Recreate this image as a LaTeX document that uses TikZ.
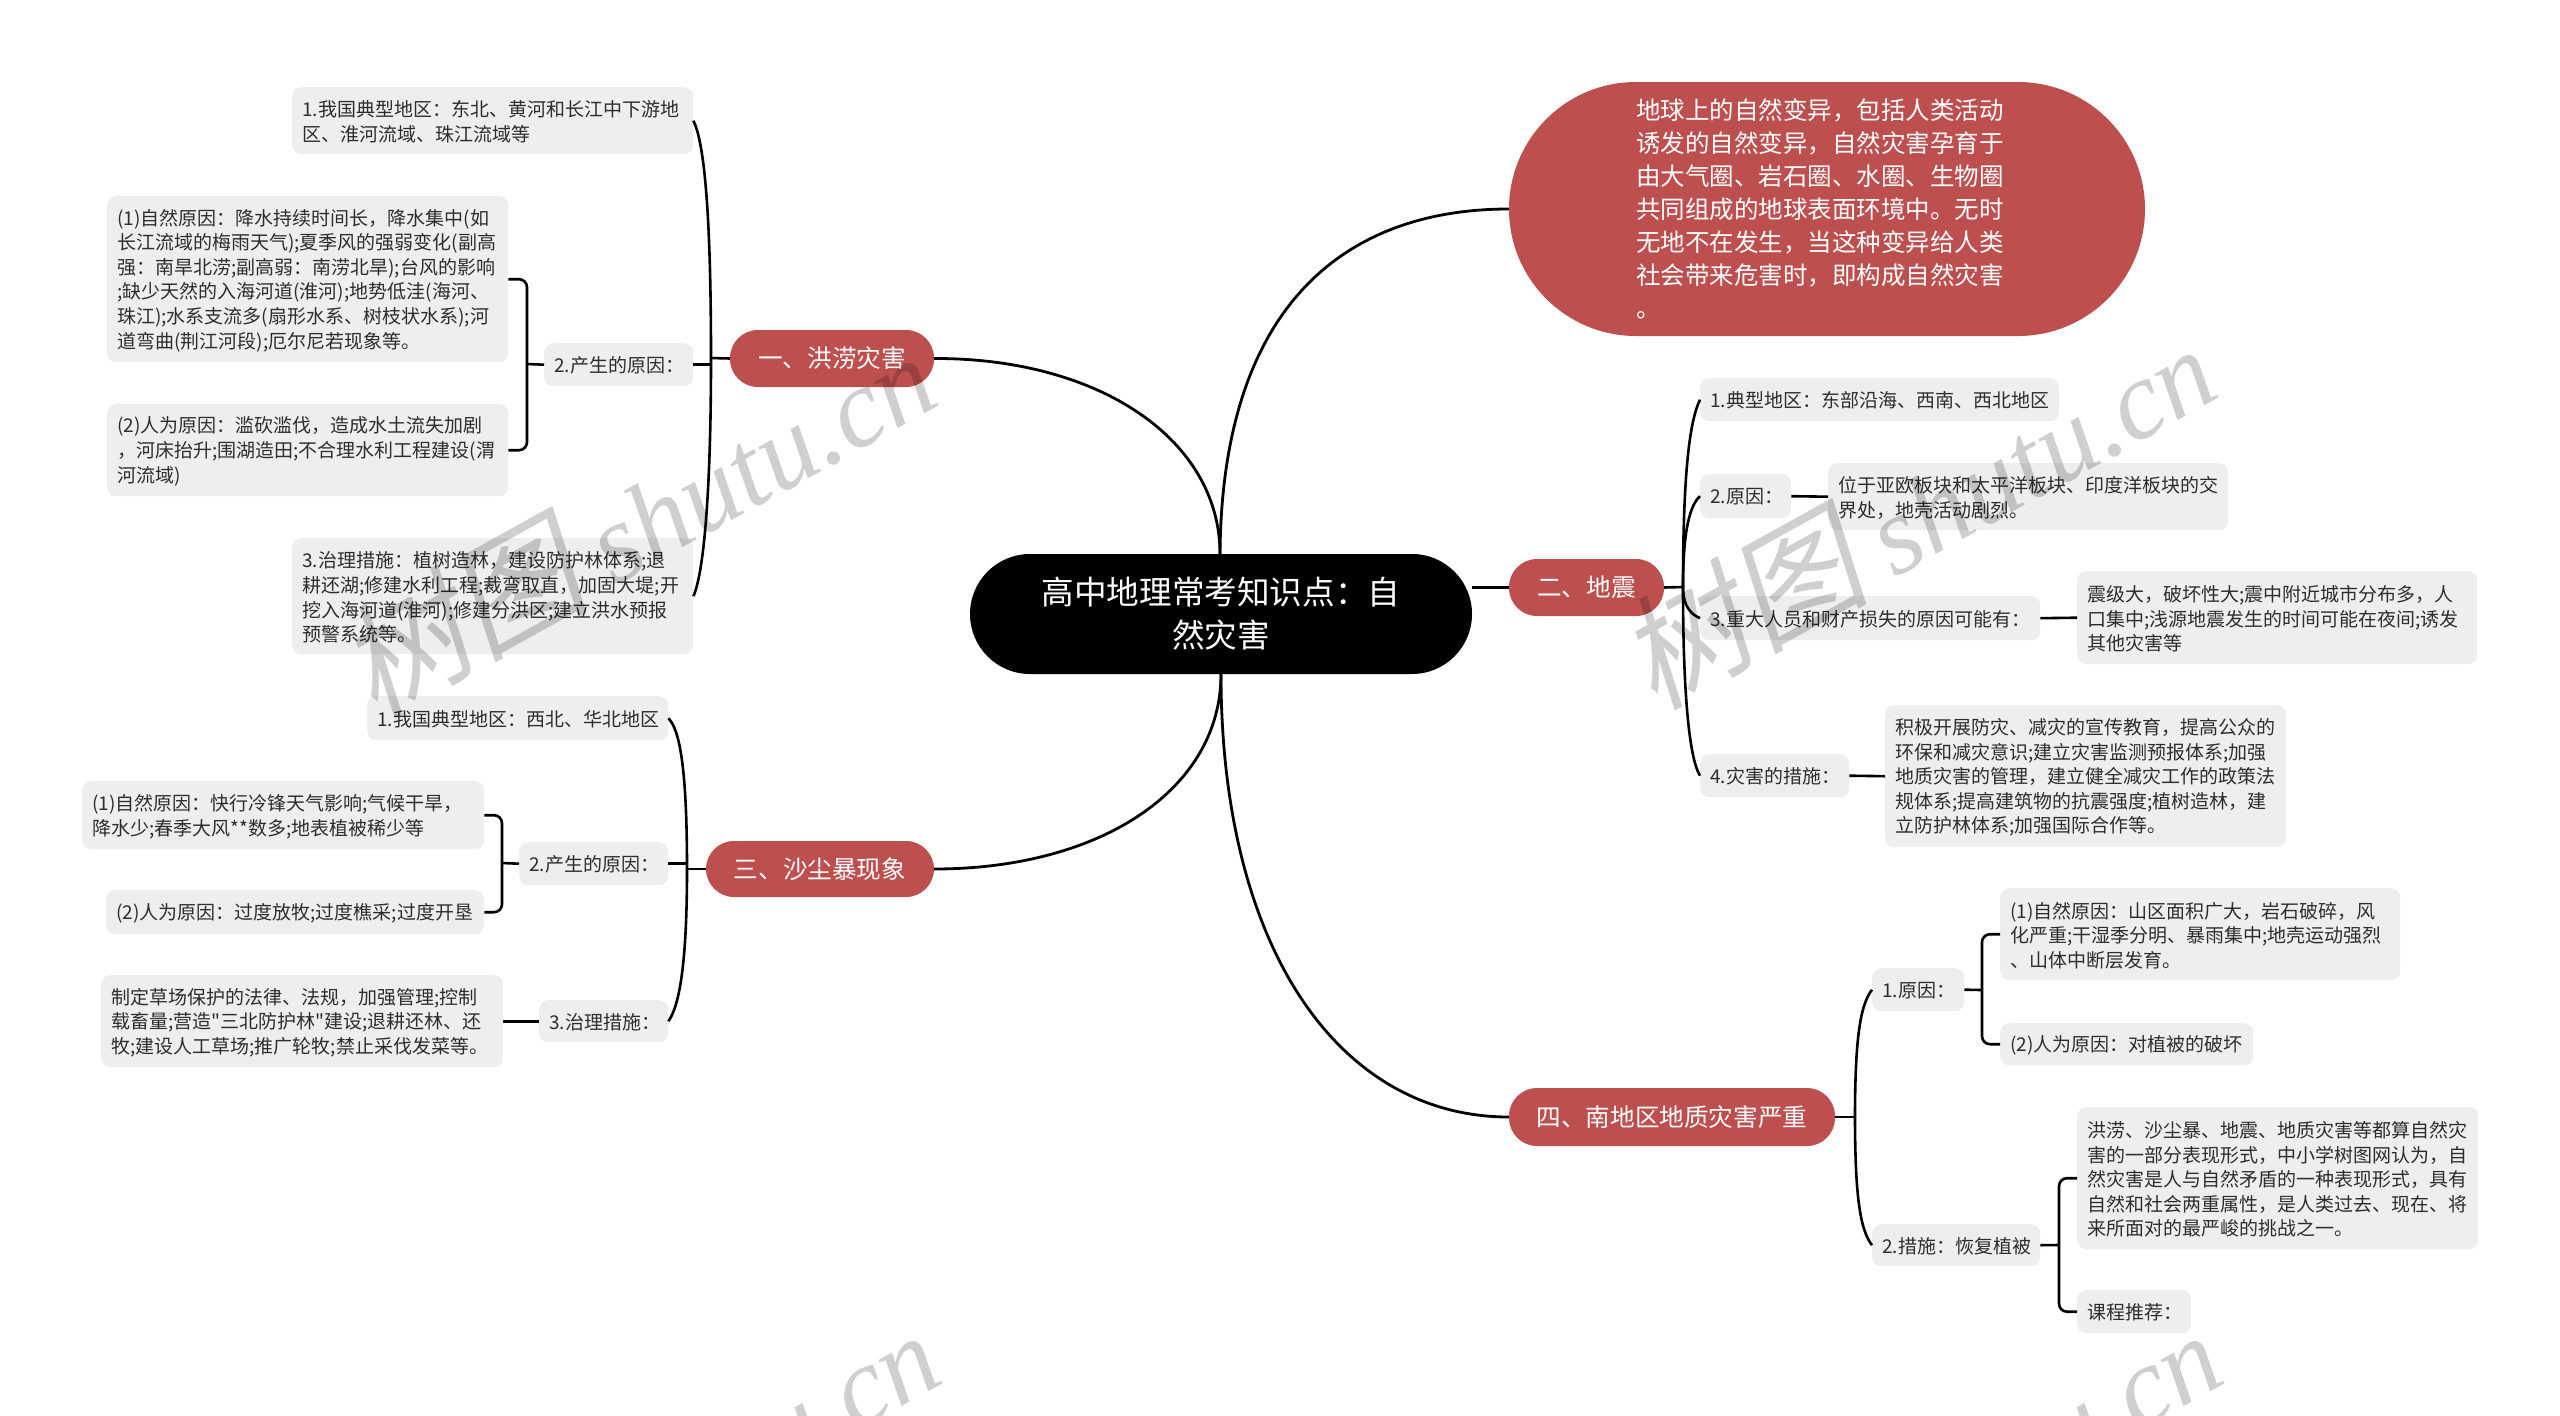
\documentclass[tikz,border=0pt]{standalone}
\usepackage{fontspec}
\setmainfont[Ligatures=TeXOff]{Noto Sans CJK SC}
\newfontfamily\wmcjk[FakeSlant=0.2]{Noto Sans CJK SC}
\newfontfamily\wmlatin{Liberation Serif}
\newcommand{\wmtext}{{\wmcjk\fontsize{125}{125}\selectfont 树图} {\wmlatin\itshape shutu.cn}}
\definecolor{topicred}{RGB}{189, 79, 79}
\definecolor{leafgray}{RGB}{238, 238, 238}
\definecolor{leaftext}{RGB}{45, 45, 45}
\usepackage{tikz}
\usetikzlibrary{positioning, calc}
\tikzset{
  leaf/.style 2 args={anchor=north west, fill=leafgray, rounded corners=9pt, text=leaftext, align=left,
    text width=#1pt, minimum height=#2pt, inner xsep=10pt, inner ysep=0pt, font=\fontsize{19}{24.6}\selectfont,
    execute at end node={\par\vspace*{-2.5pt}}},
  topic/.style={fill=topicred, text=white, rounded corners=28pt, align=center, inner sep=0pt,
    font=\fontsize{24.6}{33}\selectfont},
  link/.style={draw=black, line width=2.6pt},
  branch/.style={draw=black, line width=2.8pt},
  mark wm/.style={rotate=29, text=black, text opacity=0.19, inner sep=0pt, font=\fontsize{112}{112}\selectfont}
}
\begin{document}
\begin{tikzpicture}[x=1pt, y=-1pt]
  \useasboundingbox (0,0) rectangle (2560,1416);
  \clip (0,0) rectangle (2560,1416);

  % Central topic
  \node[fill=black, text=white, rounded corners=60pt, minimum width=502pt, minimum height=120pt, align=center, inner sep=0pt, font=\fontsize{32.6}{43}\selectfont] (root) at (1221,614) {高中地理常考知识点：自\\然灾害};

  % Main topics
  \node[topic, minimum width=204pt, minimum height=57pt] (flood) at (832,358.5) {一、洪涝灾害};
  \node[topic, minimum width=228pt, minimum height=56pt] (sand) at (820,869) {三、沙尘暴现象};
  \node[topic, minimum width=155pt, minimum height=57pt] (quake) at (1586.5,587.5) {二、地震};
  \node[topic, minimum width=326pt, minimum height=58pt] (south) at (1672,1117) {四、南地区地质灾害严重};
  \node[fill=topicred, text=white, rounded corners=127pt, minimum width=636pt, minimum height=254pt, text width=382pt, align=left, inner sep=0pt, font=\fontsize{24.5}{33}\selectfont] (intro) at (1827,209) {地球上的自然变异，包括人类活动\\诱发的自然变异，自然灾害孕育于\\由大气圈、岩石圈、水圈、生物圈\\共同组成的地球表面环境中。无时\\无地不在发生，当这种变异给人类\\社会带来危害时，即构成自然灾害\\。};

  % Flood branch
  \node[leaf={381}{67}] (f1) at (292,87) {1.我国典型地区：东北、黄河和长江中下游地\\区、淮河流域、珠江流域等};
  \node[leaf={129}{43}] (f2) at (544,343) {2.产生的原因：};
  \node[leaf={381}{166}] (f2a) at (107,196) {(1)自然原因：降水持续时间长，降水集中(如\\长江流域的梅雨天气);夏季风的强弱变化(副高\\强：南旱北涝;副高弱：南涝北旱);台风的影响\\;缺少天然的入海河道(淮河);地势低洼(海河、\\珠江);水系支流多(扇形水系、树枝状水系);河\\道弯曲(荆江河段);厄尔尼若现象等。};
  \node[leaf={381}{92}] (f2b) at (107,404) {(2)人为原因：滥砍滥伐，造成水土流失加剧\\，河床抬升;围湖造田;不合理水利工程建设(渭\\河流域)};
  \node[leaf={381}{116}] (f3) at (292,538) {3.治理措施：植树造林，建设防护林体系;退\\耕还湖;修建水利工程;裁弯取直，加固大堤;开\\挖入海河道(淮河);修建分洪区;建立洪水预报\\预警系统等。};

  % Sand branch
  \node[leaf={281}{44}] (s1) at (367,696) {1.我国典型地区：西北、华北地区};
  \node[leaf={129}{43}] (s2) at (519,842) {2.产生的原因：};
  \node[leaf={382}{68}] (s2a) at (82,781) {(1)自然原因：快行冷锋天气影响;气候干旱，\\降水少;春季大风**数多;地表植被稀少等};
  \node[leaf={358}{44}] (s2b) at (106,890) {(2)人为原因：过度放牧;过度樵采;过度开垦};
  \node[leaf={109}{42}] (s3) at (539,1000) {3.治理措施：};
  \node[leaf={382}{92}] (s3a) at (101,975) {制定草场保护的法律、法规，加强管理;控制\\载畜量;营造"三北防护林"建设;退耕还林、还\\牧;建设人工草场;推广轮牧;禁止采伐发菜等。};

  % Quake branch
  \node[leaf={339}{43}] (q1) at (1700,378) {1.典型地区：东部沿海、西南、西北地区};
  \node[leaf={71}{44}] (q2) at (1700,474) {2.原因：};
  \node[leaf={380}{67}] (q2a) at (1828,463) {位于亚欧板块和太平洋板块、印度洋板块的交\\界处，地壳活动剧烈。};
  \node[leaf={320}{44}] (q3) at (1700,596) {3.重大人员和财产损失的原因可能有：};
  \node[leaf={380}{93}] (q3a) at (2077,571) {震级大，破坏性大;震中附近城市分布多，人\\口集中;浅源地震发生的时间可能在夜间;诱发\\其他灾害等};
  \node[leaf={129}{43}] (q4) at (1700,754) {4.灾害的措施：};
  \node[leaf={381}{142}] (q4a) at (1885,705) {积极开展防灾、减灾的宣传教育，提高公众的\\环保和减灾意识;建立灾害监测预报体系;加强\\地质灾害的管理，建立健全减灾工作的政策法\\规体系;提高建筑物的抗震强度;植树造林，建\\立防护林体系;加强国际合作等。};

  % South branch
  \node[leaf={72}{43}] (g1) at (1872,968) {1.原因：};
  \node[leaf={380}{92}] (g1a) at (2000,888) {(1)自然原因：山区面积广大，岩石破碎，风\\化严重;干湿季分明、暴雨集中;地壳运动强烈\\、山体中断层发育。};
  \node[leaf={233}{42}] (g1b) at (2000,1023) {(2)人为原因：对植被的破坏};
  \node[leaf={148}{42}] (g2) at (1872,1224) {2.措施：恢复植被};
  \node[leaf={381}{142}] (g2a) at (2077,1107) {洪涝、沙尘暴、地震、地质灾害等都算自然灾\\害的一部分表现形式，中小学树图网认为，自\\然灾害是人与自然矛盾的一种表现形式，具有\\自然和社会两重属性，是人类过去、现在、将\\来所面对的最严峻的挑战之一。};
  \node[leaf={94}{43}] (g2b) at (2077,1290) {课程推荐：};

  % Junctions
  \coordinate (rootup) at (1220,554);
  \coordinate (rootdown) at (1221,674);
  \coordinate (floodj) at (711,358);
  \coordinate (f2j) at (527,364);
  \coordinate (sandj) at (687,869);
  \coordinate (s2j) at (502,863);
  \coordinate (quakej) at (1683,587);
  \coordinate (southj) at (1855,1117);
  \coordinate (g1j) at (1982,990);
  \coordinate (g2j) at (2059,1245);

  % Root to main topics
  \draw[branch] (rootup) .. controls (1220,440) and (1100,358) .. (flood.east);
  \draw[branch] (rootup) .. controls (1222,300) and (1350,209) .. (intro.west);
  \draw[branch] (rootdown) .. controls (1221,790) and (1100,869) .. (sand.east);
  \draw[branch] (rootdown) .. controls (1221,950) and (1340,1117) .. (south.west);
  \draw[branch] (root.east |- quake.west) -- (quake.west);

  % Flood links
  \draw[link] (flood.west) -- (floodj);
  \draw[link] (floodj) .. controls (711,200) and (703,140) .. (f1.east);
  \draw[link] (f2.east) -- (f2.east -| floodj);
  \draw[link] (floodj) .. controls (711,500) and (703,575) .. (f3.east);
  \draw[link, rounded corners=8pt] (f2a.east) -| (f2j) |- (f2b.east);
  \draw[link] (f2.west) -- (f2j);

  % Sand links
  \draw[link] (sand.west) -- (sandj);
  \draw[link] (sandj) .. controls (687,770) and (680,730) .. (s1.east);
  \draw[link] (s2.east) -- (s2.east -| sandj);
  \draw[link] (sandj) .. controls (687,960) and (680,1005) .. (s3.east);
  \draw[link, rounded corners=8pt] (s2a.east) -| (s2j) |- (s2b.east);
  \draw[link] (s2.west) -- (s2j);
  \draw[link] (s3.west) -- (s3a.east);

  % Quake links
  \draw[link] (quake.east) -- (quakej);
  \draw[link] (quakej) .. controls (1683,470) and (1690,420) .. (q1.west);
  \draw[link] (quakej) .. controls (1683,530) and (1690,505) .. (q2.west);
  \draw[link] (quakej) .. controls (1683,605) and (1690,614) .. (q3.west);
  \draw[link] (quakej) .. controls (1683,700) and (1690,760) .. (q4.west);
  \draw[link] (q2.east) -- (q2a.west);
  \draw[link] (q3.east) -- (q3a.west);
  \draw[link] (q4.east) -- (q4a.west);

  % South links
  \draw[link] (south.east) -- (southj);
  \draw[link] (southj) .. controls (1855,1040) and (1860,1005) .. (g1.west);
  \draw[link] (southj) .. controls (1855,1195) and (1860,1230) .. (g2.west);
  \draw[link] (g1.east) -- (g1j);
  \draw[link] (g2.east) -- (g2j);
  \draw[link, rounded corners=8pt] (g1a.west) -| (g1j) |- (g1b.west);
  \draw[link, rounded corners=8pt] (g2a.west) -| (g2j) |- (g2b.west);

  % Watermarks
  \node[mark wm] (wm1) at (636,520) {\wmtext};
  \node[mark wm] (wm2) at (1916,512) {\wmtext};
  \node[mark wm] (wm3) at (640,1498) {\wmtext};
  \node[mark wm] (wm4) at (1922,1498) {\wmtext};
\end{tikzpicture}
\end{document}
